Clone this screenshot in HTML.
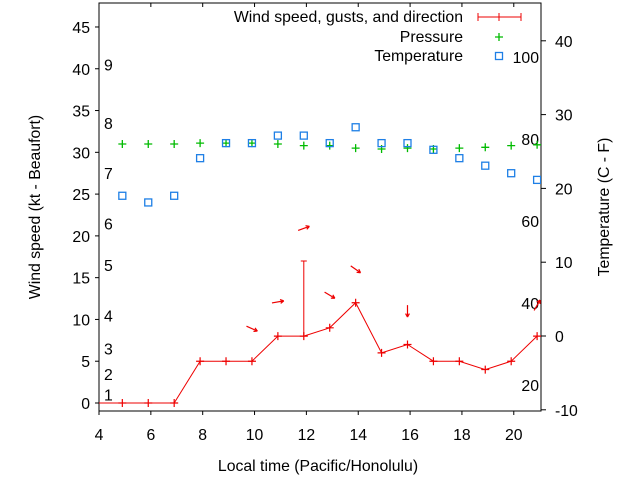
<!DOCTYPE html>
<html><head><meta charset="utf-8"><style>
html,body{margin:0;padding:0;background:#fff;}
svg text{font-family:"Liberation Sans",sans-serif;font-size:15.8px;fill:#000;}
</style></head><body>
<svg id="chart" width="640" height="480" xmlns="http://www.w3.org/2000/svg">
<defs><clipPath id="pc"><rect x="99" y="3" width="442" height="408"/></clipPath></defs>
<g id="axes"></g>
<g id="plot" clip-path="url(#pc)"></g>
<g id="legend">
 <text x="463" y="22" text-anchor="end">Wind speed, gusts, and direction</text>
 <line x1="478" y1="17" x2="521" y2="17" stroke="#e00" stroke-width="1"/>
 <line x1="478" y1="13" x2="478" y2="21" stroke="#e00"/><line x1="521" y1="13" x2="521" y2="21" stroke="#e00"/><line x1="499" y1="13" x2="499" y2="21" stroke="#e00"/>
 <text x="463" y="42" text-anchor="end">Pressure</text>
 <path d="M495 37h8M499 33v8" stroke="#0b0" stroke-width="1.3"/>
 <text x="463" y="61" text-anchor="end">Temperature</text>
 <rect x="495.5" y="52.5" width="7" height="7" fill="none" stroke="#1e7fe6" stroke-width="1.3"/>
</g>
<text x="318" y="471" text-anchor="middle">Local time (Pacific/Honolulu)</text>
<text transform="translate(40,207) rotate(-90)" text-anchor="middle">Wind speed (kt - Beaufort)</text>
<text transform="translate(609,207) rotate(-90)" text-anchor="middle">Temperature (C - F)</text>
</svg>
<script>
const times=[4.9,5.9,6.9,7.9,8.9,9.9,10.9,11.9,12.9,13.9,14.9,15.9,16.9,17.9,18.9,19.9,20.9];
const windSpeed=[0,0,0,5,5,5,8,8,9,12,6,7,5,5,4,5,8];
const gustTimes=[11.9];
const gustSpeed=[17];
const pressure=[31,31,31,31.1,31.1,31.1,31,30.8,30.8,30.5,30.4,30.5,30.4,30.5,30.6,30.8,30.9];
const temperature=[24.8,24,24.8,29.3,31.1,31.1,32,32,31.1,33,31.1,31.1,30.3,29.3,28.4,27.5,26.7];
const arrowTimes=[9.9,10.9,11.9,12.9,13.9,15.9,20.9];
const arrowLevel=[8.9,12.1,20.9,12.9,16.0,11.0,11.7];
const arrowAngle=[-24,10,20,-31,-35,-90,60];
const xTicks=[4,6,8,10,12,14,16,18,20];
const yTicks=[0,5,10,15,20,25,30,35,40,45];
const y2Ticks=[-10,0,10,20,30,40];
const beaufortLabels=["1","2","3","4","5","6","7","8","9"];
const beaufortLevels=[1,3.5,6.5,10.5,16.5,21.5,27.5,33.5,40.5];
const fahrLabels=["20","40","60","80","100"];
const fahrValues=[20,40,60,80,100];

const X0=99,X1=541,Y0=411,Y1=3;
const xs=v=>X0+(v-4)/(21.05-4)*(X1-X0);
const ys=v=>403-v*8.356;
const y2s=v=>336-v*7.38;
const ns="http://www.w3.org/2000/svg";
function mk(tag,attrs,parent){const e=document.createElementNS(ns,tag);for(const k in attrs)e.setAttribute(k,attrs[k]);parent.appendChild(e);return e;}
const ax=document.getElementById('axes'),pl=document.getElementById('plot');
const frame=mk('rect',{x:X0,y:Y1,width:X1-X0,height:Y0-Y1,fill:'none',stroke:'#000','stroke-width':1},ax);


xTicks.forEach(t=>{const x=xs(t);
 mk('line',{x1:x,y1:Y0,x2:x,y2:Y0+4,stroke:'#000'},ax);
 mk('line',{x1:x,y1:Y1,x2:x,y2:Y1+4,stroke:'#000'},ax);
 const tx=mk('text',{x:x,y:440,'text-anchor':'middle'},ax);tx.textContent=t;
 
 });
yTicks.forEach(t=>{const y=ys(t);
 mk('line',{x1:X0-4,y1:y,x2:X0,y2:y,stroke:'#000'},ax);
 const tx=mk('text',{x:90,y:y+6,'text-anchor':'end'},ax);tx.textContent=t;
 
 });
y2Ticks.forEach(t=>{const y=y2s(t);
 mk('line',{x1:X1,y1:y,x2:X1+5,y2:y,stroke:'#000'},ax);
 const tx=mk('text',{x:555,y:y+6,'text-anchor':'start'},ax);tx.textContent=t;
 
 });
beaufortLabels.forEach((l,i)=>{const tx=mk('text',{x:104,y:ys(beaufortLevels[i])+6},ax);tx.textContent=l;
 
 });
fahrLabels.forEach((l,i)=>{const c=(fahrValues[i]-32)*5/9;const tx=mk('text',{x:539,y:y2s(c)+6,'text-anchor':'end'},ax);tx.textContent=l;
 
 });
const pts=times.map((t,i)=>xs(t)+','+ys(windSpeed[i]));
const wl=mk('polyline',{points:xs(4)+','+ys(windSpeed[0])+' '+pts.join(' '),fill:'none',stroke:'#e00','stroke-width':1},pl);


times.forEach((t,i)=>{const x=xs(t),y=ys(windSpeed[i]);
 const p=mk('path',{d:`M${x-4} ${y}h8M${x} ${y-4}v8`,stroke:'#e00','stroke-width':1.2},pl);
 
 });
gustTimes.forEach((t,i)=>{const x=xs(t);const windAt=windSpeed[times.indexOf(t)];
 const g=mk('path',{d:`M${x} ${ys(windAt)}V${ys(gustSpeed[i])}M${x-3} ${ys(gustSpeed[i])}h6`,stroke:'#e00','stroke-width':1},pl);
 
 });
arrowTimes.forEach((t,i)=>{const cx=xs(t),cy=ys(arrowLevel[i]);const a=arrowAngle[i]*Math.PI/180;
 const dx=6*Math.cos(a),dy=-6*Math.sin(a);const x2=cx+dx,y2=cy+dy;
 const b1=a+Math.PI-0.5,b2=a+Math.PI+0.5;
 const ar=mk('path',{d:`M${cx-dx} ${cy-dy}L${x2} ${y2}M${x2} ${y2}L${x2+4*Math.cos(b1)} ${y2-4*Math.sin(b1)}M${x2} ${y2}L${x2+4*Math.cos(b2)} ${y2-4*Math.sin(b2)}`,stroke:'#e00','stroke-width':1.2,fill:'none'},pl);
 
 });
pressure.forEach((v,i)=>{const x=xs(times[i]),y=ys(v);
 const p=mk('path',{d:`M${x-4} ${y}h8M${x} ${y-4}v8`,stroke:'#0b0','stroke-width':1.3},pl);
 
 });
temperature.forEach((v,i)=>{const x=xs(times[i]),y=ys(v);
 const r=mk('rect',{x:x-3.5,y:y-3.5,width:7,height:7,fill:'none',stroke:'#1e7fe6','stroke-width':1.3},pl);
 
 });
</script>
</body></html>
